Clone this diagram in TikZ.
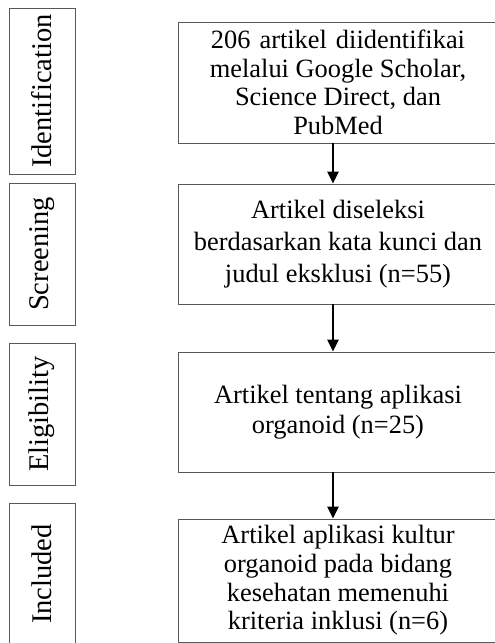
\documentclass[tikz,border=0pt]{standalone}
\usepackage{fontspec}
\setmainfont{Liberation Serif}
\usetikzlibrary{positioning,arrows.meta}

\begin{document}
\begin{tikzpicture}[
  x=1pt, y=-1pt,
  stage/.style={rectangle, draw=black!65, line width=0.8pt, rotate=90, inner sep=0pt,
    minimum height=66pt, font=\fontsize{28.5}{30}\selectfont},
  box/.style={rectangle, draw=black!65, line width=0.8pt, inner sep=0pt, align=center,
    minimum width=320pt, font=\fontsize{26.4}{28.6}\selectfont},
  arr/.style={-{Triangle[length=12pt, width=11pt]}, line width=2.8pt}
]
\useasboundingbox (0,0) rectangle (495,643);
% stage labels on the left
\node[stage, minimum width=166pt] (ident) at (42,91) {Identification};
\node[stage, minimum width=142pt] (scr) at (42,254) {Screening};
\node[stage, minimum width=142pt] (elig) at (42,414) {Eligibility};
\node[stage, minimum width=142pt] (incl) at (42,574) {Included};
% flow of articles
\node[box, minimum height=121pt] (found) at (338,82.5)
  {206\hspace{9pt}artikel\hspace{9pt}diidentifikai\\melalui Google Scholar,\\Science Direct, dan\\PubMed};
\node[box, minimum height=120pt, font=\fontsize{26.4}{32}\selectfont] (sel) at (338,244)
  {Artikel diseleksi\\berdasarkan kata kunci dan\\judul eksklusi (n=55)};
\node[box, minimum height=120pt, font=\fontsize{26.4}{30}\selectfont] (app) at (338,412)
  {Artikel tentang aplikasi\\organoid (n=25)};
\node[box, minimum height=123pt] (inc) at (338,580.5)
  {Artikel aplikasi kultur\\organoid pada bidang\\kesehatan memenuhi\\kriteria inklusi (n=6)};
\draw[arr] ([xshift=-5pt]found.south) -- ([xshift=-5pt]sel.north);
\draw[arr] ([xshift=-5pt]sel.south) -- ([xshift=-5pt]app.north);
\draw[arr] ([xshift=-5pt]app.south) -- ([xshift=-5pt]inc.north);
\end{tikzpicture}
\end{document}
